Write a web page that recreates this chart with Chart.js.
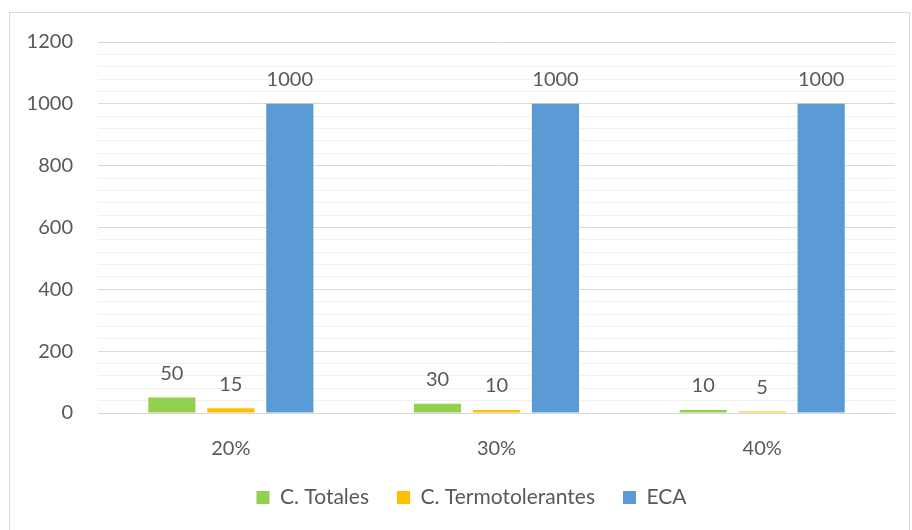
<!DOCTYPE html>
<html>
<head>
<meta charset="utf-8">
<title>Coliformes vs ECA</title>
<script src="https://cdn.jsdelivr.net/npm/chart.js@4.4.1/dist/chart.umd.min.js"></script>
<style>
html, body { margin: 0; padding: 0; background: #fff; overflow: hidden; }
#wrap { position: relative; width: 912px; height: 530px; }
#frame {
    position: absolute; left: 9px; top: 12px; width: 901px; height: 530px;
    border: 1px solid #d9d9d9; box-sizing: border-box;
}
canvas { position: absolute; left: 0; top: 0; }
</style>
</head>
<body>
<div id="wrap">
  <div id="frame"></div>
  <canvas id="grafico" width="912" height="530"></canvas>
</div>
<script>
// datos
var categorias = ["20%", "30%", "40%"];
var cTotales = [50, 30, 10];
var cTermo = [15, 10, 5];
var eca = [1000, 1000, 1000];

var fuente = "Lato, 'Open Sans', sans-serif";
var gris = "#595959";

// etiquetas de valor encima de cada barra
var etiquetas = {
  id: "etiquetas",
  afterDatasetsDraw: function(chart) {
    var ctx = chart.ctx;
    ctx.save();
    ctx.font = "20px " + fuente;
    ctx.fillStyle = gris;
    ctx.textAlign = "center";
    ctx.textBaseline = "middle";
    chart.data.datasets.forEach(function(ds, i) {
      chart.getDatasetMeta(i).data.forEach(function(bar, j) {
        ctx.fillText(ds.data[j], bar.x, bar.y - 24);
      });
    });
    ctx.restore();
  }
};

// la leyenda de Excel esta algo corrida a la derecha
var moverLeyenda = {
  id: "moverLeyenda",
  afterLayout: function(chart) {
    if (chart.legend) chart.legend.left += 48;
  }
};

var chart = new Chart(document.getElementById("grafico"), {
  type: "bar",
  data: {
    labels: categorias,
    datasets: [
      { label: "C. Totales", data: cTotales, backgroundColor: "#92d050" },
      { label: "C. Termotolerantes", data: cTermo, backgroundColor: "#ffc000" },
      { label: "ECA", data: eca, backgroundColor: "#5b9bd5" }
    ]
  },
  options: {
    responsive: false,
    animation: false,
    categoryPercentage: 0.666,
    barPercentage: 0.8,
    layout: { padding: { left: 0, right: 17, top: 42, bottom: 12 } },
    plugins: {
      tooltip: { enabled: false },
      legend: {
        position: "bottom",
        labels: {
          font: { family: fuente, size: 21 },
          color: gris,
          boxWidth: 13,
          boxHeight: 13,
          padding: 28
        }
      }
    },
    scales: {
      x: {
        grid: { display: false, drawTicks: false },
        border: { display: false },
        ticks: { font: { family: fuente, size: 20 }, color: gris, padding: 24 },
        afterFit: function(s) { s.height = 46; }
      },
      y: {
        min: 0,
        max: 1200,
        border: { display: false },
        grid: {
          drawTicks: false,
          color: function(c) { return c.tick.value % 200 === 0 ? "#d9d9d9" : "#f0f0f0"; }
        },
        ticks: {
          stepSize: 40,
          autoSkip: false,
          padding: 25,
          font: { family: fuente, size: 20 },
          color: gris,
          callback: function(v) { return v % 200 === 0 ? v : ""; }
        },
        afterFit: function(s) { s.width = 98; }
      }
    }
  },
  plugins: [etiquetas, moverLeyenda]
});
</script>
</body>
</html>
